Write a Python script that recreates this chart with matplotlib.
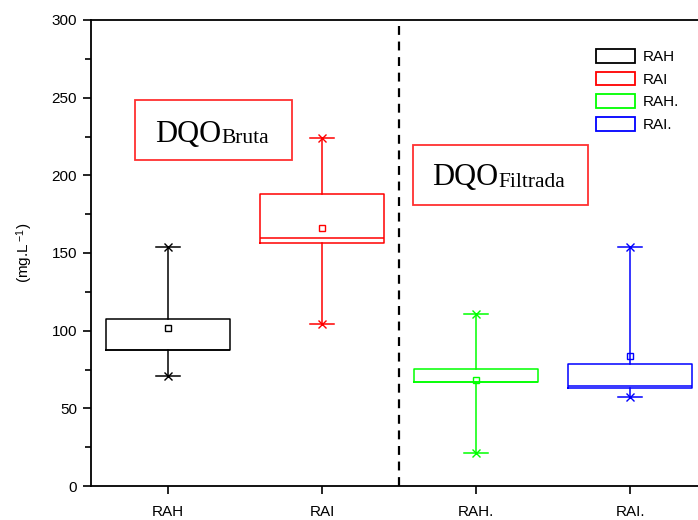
import matplotlib
matplotlib.use("Agg")
import matplotlib.pyplot as plt
from matplotlib.patches import Patch, Rectangle
from matplotlib.transforms import IdentityTransform

plt.rcParams['font.family'] = ['Liberation Sans', 'DejaVu Sans']
plt.rcParams['mathtext.fontset'] = 'custom'
plt.rcParams['mathtext.rm'] = 'Liberation Serif'
plt.rcParams['mathtext.it'] = 'Liberation Serif:italic'
plt.rcParams['mathtext.sf'] = 'Liberation Sans'

categories = ['RAH', 'RAI', 'RAH.', 'RAI.']
colors = ['#000000', '#ff0000', '#00ff00', '#0000ff']
whislo = [70.5, 104.5, 21.5, 57.5]
q1 = [87.8, 156.3, 66.8, 62.9]
med = [87.8, 159.5, 66.8, 64.6]
q3 = [107.5, 187.8, 75.5, 78.6]
whishi = [154.0, 224.0, 110.5, 154.0]
means = [101.7, 166.0, 68.4, 83.7]

fig = plt.figure(figsize=(6.98, 5.2), dpi=100)
ax = fig.add_axes([91/698, 34/520, 616/698, 466/520])

positions = list(range(1, len(categories) + 1))
for i, pos in enumerate(positions):
    c = colors[i]
    stats = [dict(whislo=whislo[i], q1=q1[i], med=med[i], q3=q3[i],
                  whishi=whishi[i], mean=means[i], fliers=[], label=categories[i])]
    ax.bxp(stats, positions=[pos], widths=0.8, capwidths=0.15, showmeans=True,
           showfliers=False,
           boxprops=dict(color=c, linewidth=1.1),
           medianprops=dict(color=c, linewidth=1.1),
           whiskerprops=dict(color=c, linewidth=1.1),
           capprops=dict(color=c, linewidth=1.1),
           meanprops=dict(marker='s', markerfacecolor='none', markeredgecolor=c,
                          markersize=5, markeredgewidth=1.0))
    ax.plot([pos, pos], [whislo[i], whishi[i]], linestyle='none', marker='x',
            color=c, markersize=6, markeredgewidth=1.0)

ax.axvline(2.5, color='black', linestyle=(0, (4, 3)), linewidth=1.6)

ax.set_xlim(0.5, 4.5)
ax.set_ylim(0, 300)
ax.set_xticks(positions)
ax.set_xticklabels(categories, fontsize=11)
ax.set_yticks(range(0, 301, 50))
ax.set_yticks(range(25, 300, 50), minor=True)
ax.tick_params(axis='y', which='major', direction='out', length=6, width=1.2, labelsize=11, pad=4)
ax.tick_params(axis='y', which='minor', direction='out', length=4, width=1.2)
ax.tick_params(axis='x', which='major', direction='out', length=6, width=1.2, pad=8)
for s in ax.spines.values():
    s.set_linewidth(1.3)

ax.set_ylabel(r'(mg.L$^{\ \mathsf{-1}}$)', fontsize=11, labelpad=12)

# Annotation boxes
ax.add_patch(Rectangle((0.786, 210.0), 1.019, 38.5, fill=False, edgecolor='#ff3030', linewidth=1.3))
ax.add_patch(Rectangle((2.59, 181.0), 1.137, 38.6, fill=False, edgecolor='#ff3030', linewidth=1.3))

labels_main = [('DQO', 'Bruta', 0.9156, 221.7), ('DQO', 'Filtrada', 2.716, 193.8)]
fig.canvas.draw()
renderer = fig.canvas.get_renderer()
for main, sub, x0, y0 in labels_main:
    t1 = ax.text(x0, y0, main, family='Liberation Serif', fontsize=22,
                 ha='left', va='baseline')
    bb = t1.get_window_extent(renderer=renderer)
    xd, yd = ax.transData.transform((x0, y0))
    ax.text(bb.x1, yd - 1.6, sub, family='Liberation Serif', fontsize=15.5,
            ha='left', va='baseline', transform=IdentityTransform())

handles = [Patch(facecolor='white', edgecolor=c, linewidth=1.3) for c in colors]
fig.legend(handles, categories, loc='upper left', bbox_to_anchor=(596/698, 1 - 49/520),
           frameon=False, fontsize=11, handlelength=2.55, handleheight=1.0,
           labelspacing=0.5, handletextpad=0.5, borderpad=0, borderaxespad=0)

fig.savefig('out.png', dpi=100)
